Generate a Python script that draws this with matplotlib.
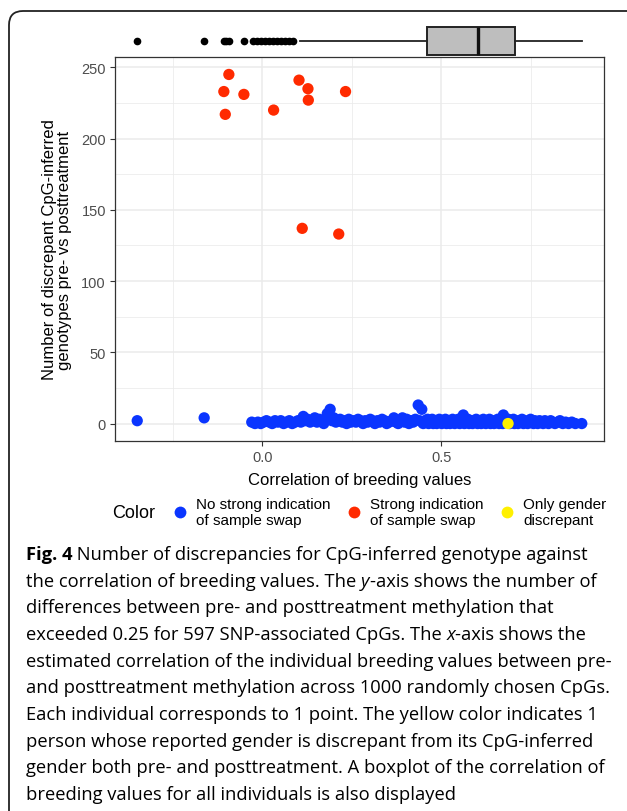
import numpy as np
import matplotlib
matplotlib.use("Agg")
import matplotlib.pyplot as plt
from matplotlib.lines import Line2D
from matplotlib.patches import FancyBboxPatch

# individuals with no strong indication of sample swap
blue_x = [-0.349, -0.162,
          -0.029, -0.020, -0.012, -0.004, 0.004, 0.012, 0.020, 0.028, 0.036, 0.044, 0.052, 0.060, 0.068, 0.076, 0.084, 0.092, 0.100,
          0.108, 0.115, 0.120, 0.127, 0.134, 0.140, 0.147, 0.153, 0.160, 0.166, 0.172, 0.178, 0.182, 0.190, 0.195, 0.200, 0.206, 0.212, 0.218, 0.224, 0.230, 0.236, 0.242, 0.248,
          0.255, 0.262, 0.268, 0.275, 0.282, 0.288, 0.295, 0.302, 0.308, 0.315, 0.322, 0.328, 0.335, 0.342, 0.348, 0.355, 0.362, 0.368, 0.374, 0.380, 0.386, 0.392, 0.398, 0.404, 0.410, 0.416, 0.422, 0.428, 0.436, 0.440, 0.446, 0.450,
          0.455, 0.458, 0.462, 0.465, 0.468, 0.472, 0.475, 0.478, 0.482, 0.485, 0.488, 0.492, 0.495, 0.498, 0.502, 0.505, 0.508, 0.512, 0.515, 0.518,
          0.522, 0.525, 0.528, 0.532, 0.535, 0.538, 0.542, 0.545, 0.548, 0.552, 0.555, 0.558, 0.562, 0.565, 0.568, 0.572, 0.575, 0.578, 0.582, 0.585,
          0.588, 0.592, 0.595, 0.598, 0.602, 0.605, 0.608, 0.612, 0.615, 0.618, 0.622, 0.625, 0.628, 0.632, 0.635, 0.638, 0.642, 0.645, 0.648, 0.652,
          0.655, 0.658, 0.662, 0.665, 0.668, 0.672, 0.674, 0.678, 0.682, 0.688, 0.692, 0.695, 0.698, 0.702, 0.705, 0.708, 0.712, 0.715, 0.718,
          0.722, 0.726, 0.730, 0.734, 0.738, 0.742, 0.746, 0.750, 0.754, 0.758, 0.762, 0.766, 0.770, 0.775, 0.780, 0.785, 0.790, 0.795, 0.800,
          0.806, 0.812, 0.818, 0.825, 0.832, 0.840, 0.848, 0.856, 0.865, 0.875, 0.893]
blue_y = [2, 4,
          1, 0, 1, 0, 1, 2, 1, 0, 2, 1, 2, 0, 1, 2, 0, 1, 2,
          1, 5, 2, 3, 1, 2, 4, 1, 3, 2, 0, 3, 7, 10, 2, 4, 1, 2, 3, 1, 2, 0, 3, 1,
          2, 1, 3, 2, 0, 2, 1, 3, 2, 0, 2, 1, 3, 2, 0, 1, 2, 4, 1, 0, 2, 4, 1, 3, 0, 2, 1, 3, 13, 2, 10, 0,
          2, 1, 3, 0, 2, 1, 3, 0, 2, 1, 0, 2, 3, 1, 0, 2, 1, 3, 0, 2,
          1, 0, 2, 3, 1, 0, 2, 1, 3, 0, 2, 1, 6, 0, 2, 1, 3, 0, 2, 1,
          0, 2, 1, 3, 0, 2, 1, 0, 2, 3, 1, 0, 2, 1, 3, 0, 2, 1, 0, 2,
          1, 3, 0, 2, 1, 0, 6, 2, 1, 3, 0, 2, 1, 3, 0, 2, 1, 0, 2,
          1, 3, 0, 2, 1, 0, 2, 3, 1, 0, 2, 1, 0, 2, 1, 0, 2, 1, 0,
          2, 1, 0, 1, 2, 0, 1, 0, 1, 0, 0]

# strong indication of sample swap
red_x = [-0.093, -0.107, -0.051, -0.103, 0.032, 0.103, 0.128, 0.129, 0.233, 0.112, 0.214]
red_y = [245, 233, 231, 217, 220, 241, 235, 227, 233, 137, 133]

# only gender discrepant
yellow_x = [0.687]
yellow_y = [0]

# boxplot of correlation of breeding values (all individuals)
box_q1, box_med, box_q3 = 0.461, 0.603, 0.707
box_whislo, box_whishi = 0.106, 0.893
box_fliers = [-0.349, -0.162, -0.106, -0.101, -0.092, -0.050, -0.025, -0.014, -0.003,
              0.008, 0.020, 0.031, 0.042, 0.053, 0.064, 0.075, 0.087]

labels = ["No strong indication\nof sample swap", "Strong indication\nof sample swap", "Only gender\ndiscrepant"]
colors = ["#0a35ff", "#ff2a00", "#fff000"]

caption = [
    [("Fig. 4", "bold"), (" Number of discrepancies for CpG-inferred genotype against", "normal")],
    [("the correlation of breeding values. The ", "normal"), ("y", "italic"), ("-axis shows the number of", "normal")],
    [("differences between pre- and posttreatment methylation that", "normal")],
    [("exceeded 0.25 for 597 SNP-associated CpGs. The ", "normal"), ("x", "italic"), ("-axis shows the", "normal")],
    [("estimated correlation of the individual breeding values between pre-", "normal")],
    [("and posttreatment methylation across 1000 randomly chosen CpGs.", "normal")],
    [("Each individual corresponds to 1 point. The yellow color indicates 1", "normal")],
    [("person whose reported gender is discrepant from its CpG-inferred", "normal")],
    [("gender both pre- and posttreatment. A boxplot of the correlation of", "normal")],
    [("breeding values for all individuals is also displayed", "normal")],
]

W, H = 627, 812
fig = plt.figure(figsize=(W / 100, H / 100), dpi=100)
plt.rcParams['font.family'] = ['Liberation Sans', 'DejaVu Sans']

# rounded frame of the figure panel
frame = FancyBboxPatch((9, -40), 700, 40 + (H - 12), boxstyle="round,pad=0,rounding_size=14",
                       transform=None, fill=False, edgecolor="#222222", linewidth=1.3, clip_on=False)
fig.patches.append(frame)

def fx(px):
    return px / W

def fy(py):
    return 1 - py / H

ax = fig.add_axes([fx(115), fy(442), fx(604) - fx(115), fy(58) - fy(442)])

all_x = blue_x + red_x + yellow_x
all_y = blue_y + red_y + yellow_y
xr = max(all_x) - min(all_x)
yr = max(all_y) - min(all_y)
xlim = (min(all_x) - 0.05 * xr, max(all_x) + 0.05 * xr)
ax.set_xlim(xlim)
ax.set_ylim(min(all_y) - 0.05 * yr, max(all_y) + 0.05 * yr)

ax.scatter(blue_x, blue_y, s=66, color=colors[0], edgecolors='none', zorder=3)
ax.scatter(red_x, red_y, s=66, color=colors[1], edgecolors='none', zorder=4)
ax.scatter(yellow_x, yellow_y, s=66, color=colors[2], edgecolors='none', zorder=5)

ax.set_xticks([0.0, 0.5])
ax.set_xticklabels(["0.0", "0.5"])
ax.set_xticks([-0.25, 0.25, 0.75], minor=True)
ax.set_yticks([0, 50, 100, 150, 200, 250])
ax.set_yticks([25, 75, 125, 175, 225], minor=True)
ax.grid(which='major', color='#ebebeb', linewidth=1.1)
ax.grid(which='minor', color='#ebebeb', linewidth=0.55)
ax.set_axisbelow(True)
ax.tick_params(which='major', length=3.5, width=0.8, color='#333333', labelcolor='#4d4d4d', labelsize=10.5, pad=3)
ax.tick_params(which='minor', length=0)
for s in ax.spines.values():
    s.set_color('#333333')
    s.set_linewidth(0.9)
ax.set_xlabel("Correlation of breeding values", fontsize=12, labelpad=6)
ax.set_ylabel("Number of discrepant CpG-inferred\ngenotypes pre- vs posttreatment", fontsize=12, labelpad=7,
              linespacing=1.0)

# boxplot on top
axb = fig.add_axes([fx(115), fy(62), fx(604) - fx(115), fy(22) - fy(62)])
axb.set_xlim(xlim)
axb.set_ylim(0, 1)
axb.axis('off')
stats = [dict(med=box_med, q1=box_q1, q3=box_q3, whislo=box_whislo, whishi=box_whishi, fliers=box_fliers)]
axb.bxp(stats, positions=[0.5], widths=0.7, orientation='horizontal', patch_artist=True, showcaps=False,
        boxprops=dict(facecolor='#bebebe', edgecolor='#222222', linewidth=1.4),
        medianprops=dict(color='#111111', linewidth=2.4),
        whiskerprops=dict(color='#222222', linewidth=1.3),
        flierprops=dict(marker='o', markerfacecolor='black', markeredgecolor='black', markersize=4.5))

# legend
handles = [Line2D([], [], marker='o', linestyle='none', markersize=8.5, markerfacecolor=c, markeredgecolor='none')
           for c in colors]
fig.text(fx(112), fy(513), "Color", fontsize=13, va='center', ha='left')
leg = fig.legend(handles, labels, loc='center left', bbox_to_anchor=(fx(172), fy(513)), ncol=3, frameon=False,
                 fontsize=11, handlelength=1.0, handletextpad=0.55, columnspacing=1.05, borderaxespad=0,
                 borderpad=0, labelspacing=0)
for t in leg.get_texts():
    t.set_multialignment('left')
    t.set_linespacing(1.15)

# caption
fig.canvas.draw()
renderer = fig.canvas.get_renderer()
cap_fs = 13.2
probe = fig.text(0, 0, "".join(p[0] for p in caption[4]), fontsize=cap_fs, family='Open Sans')
wpx = probe.get_window_extent(renderer).width
probe.remove()
cap_fs = cap_fs * 586 / wpx
line_y = [555, 582, 608, 635, 662, 688, 715, 742, 768, 795]
for parts, ly in zip(caption, line_y):
    xpx = 26
    for txt, style in parts:
        kw = dict(fontsize=cap_fs, family='Open Sans', va='center', ha='left')
        if style == 'bold':
            kw['fontweight'] = 'bold'
        if style == 'italic':
            kw['fontstyle'] = 'italic'
        t = fig.text(fx(xpx), fy(ly), txt, **kw)
        xpx += t.get_window_extent(renderer).width

fig.savefig("out.png", dpi=100)
